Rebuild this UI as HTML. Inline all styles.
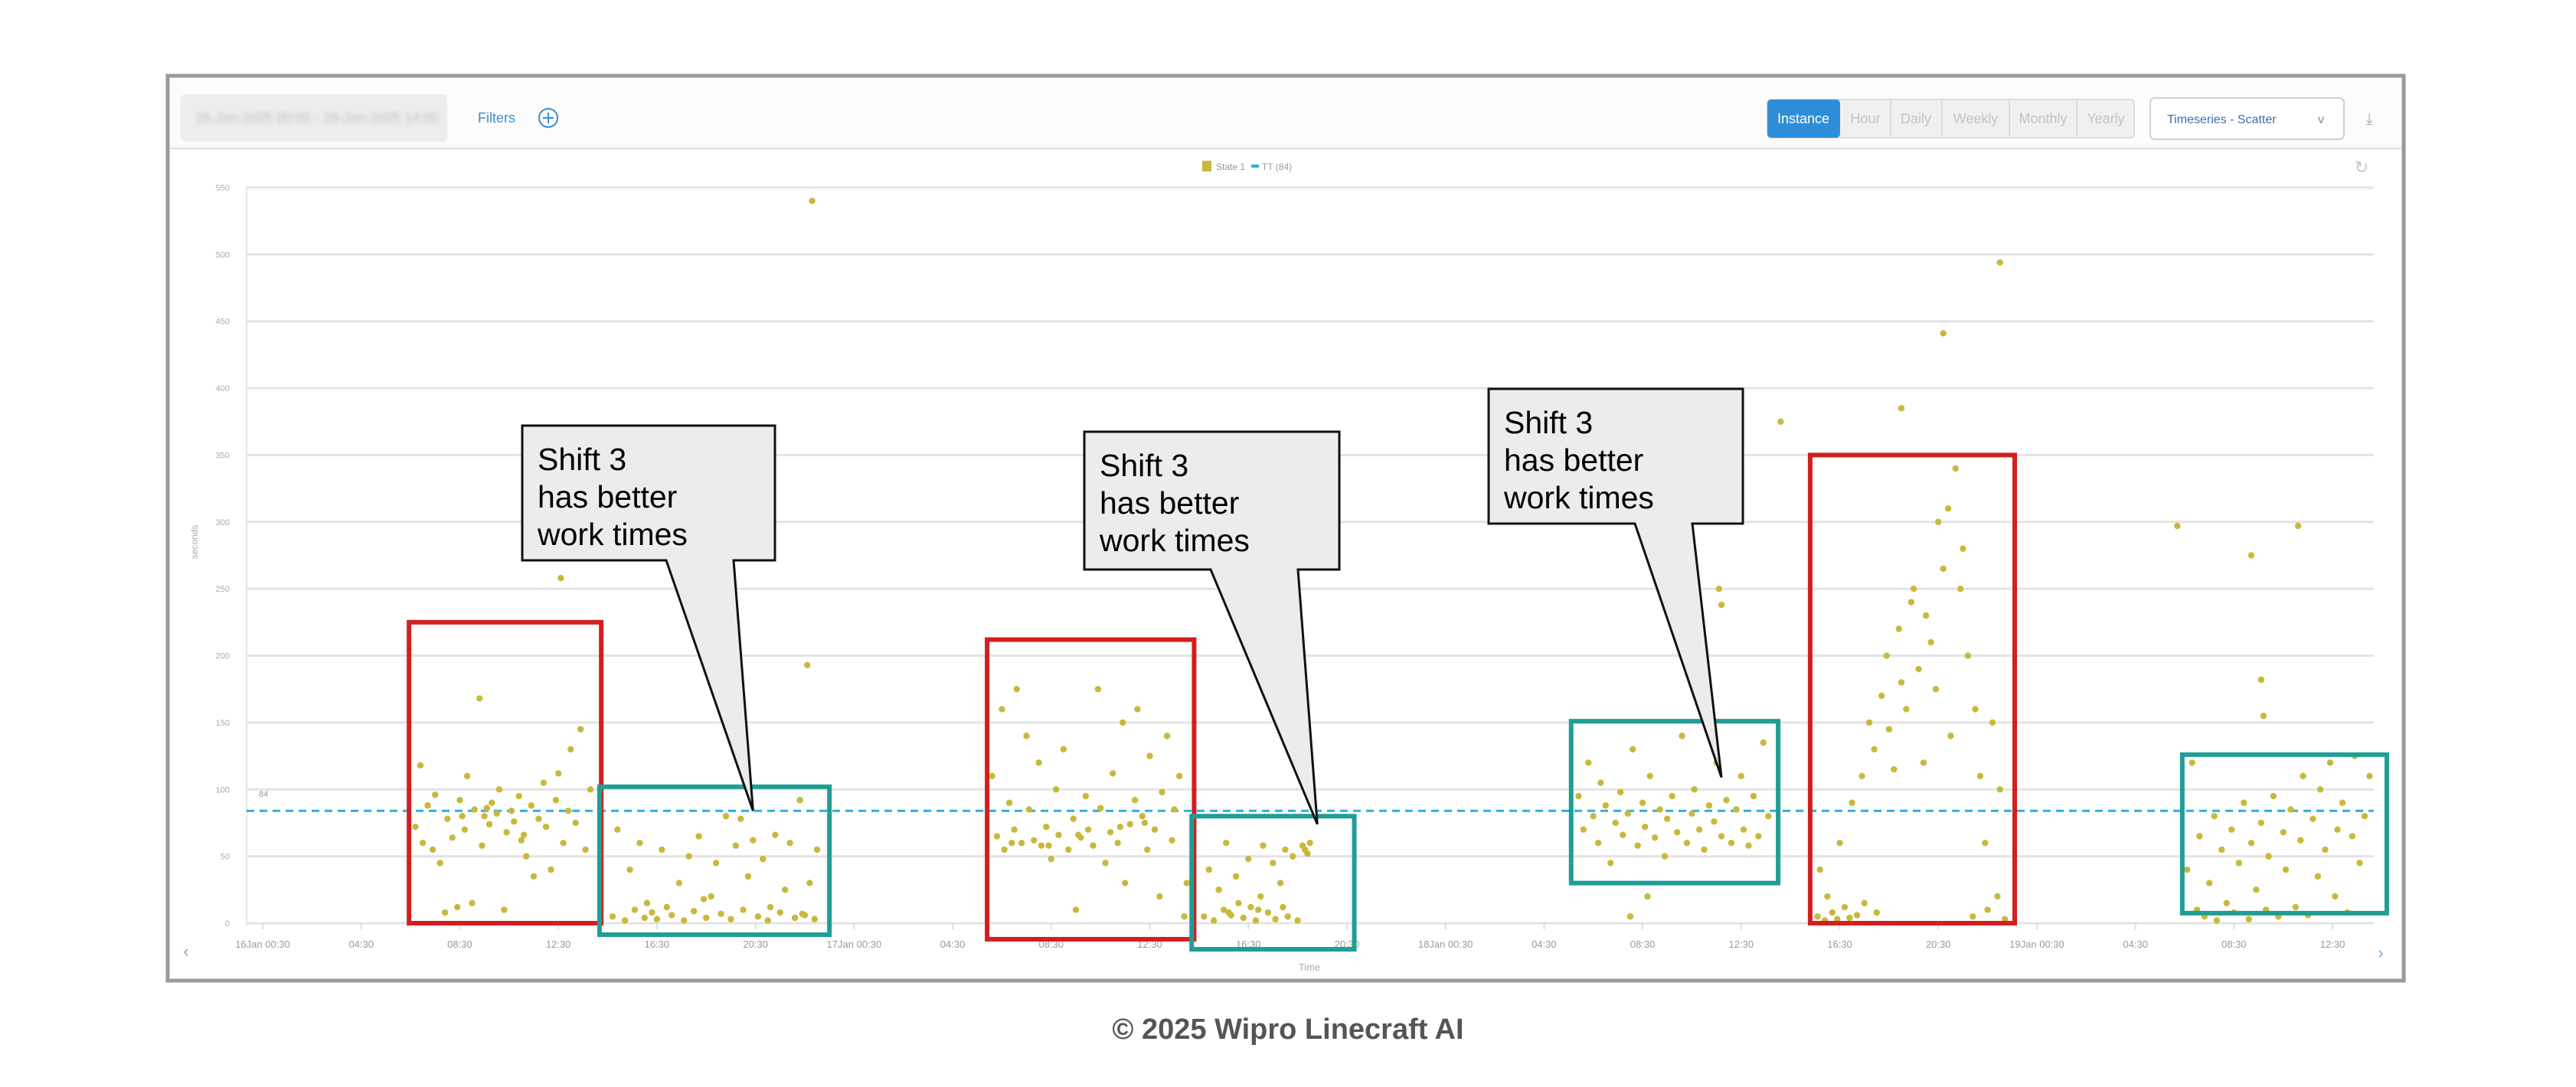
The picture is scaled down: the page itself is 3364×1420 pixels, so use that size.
<!DOCTYPE html>
<html><head><meta charset="utf-8"><style>
html,body{margin:0;padding:0;background:#fff;}
svg{display:block;font-family:"Liberation Sans",sans-serif;}
</style></head><body>
<svg id="chart" width="3364" height="1420" viewBox="0 0 3364 1420" xmlns="http://www.w3.org/2000/svg">
  <defs><filter id="blur"><feGaussianBlur stdDeviation="3"/></filter></defs>
  <rect x="219" y="99" width="2920" height="1182" fill="#fff" stroke="#9a9a9a" stroke-width="5"/>
  <rect x="222" y="102" width="2914" height="91" fill="#fcfcfc"/>
  <line x1="222" y1="194" x2="3136" y2="194" stroke="#e3e3e3" stroke-width="3"/>
  <rect x="236" y="123" width="348" height="62" rx="6" fill="#ededed"/>
  <text x="255" y="160" font-size="18" fill="#c0c0c0" filter="url(#blur)">16-Jan-2025 00:00 - 19-Jan-2025 14:00</text>
  <text x="624" y="160" font-size="18" fill="#3a8fd0">Filters</text>
  <g><circle cx="716" cy="154" r="12" fill="none" stroke="#3a8fd0" stroke-width="2"/><line x1="716" y1="147" x2="716" y2="161" stroke="#3a8fd0" stroke-width="2"/><line x1="709" y1="154" x2="723" y2="154" stroke="#3a8fd0" stroke-width="2"/></g>
  <g>
    <rect x="2308" y="130" width="479" height="50" rx="5" fill="#f0f0f0" stroke="#dcdcdc" stroke-width="2"/>
    <rect x="2308" y="130" width="95" height="50" rx="5" fill="#2e8fd8"/>
    <text x="2355" y="161" font-size="18" fill="#fff" text-anchor="middle">Instance</text>
    <line x1="2469" y1="132" x2="2469" y2="178" stroke="#dcdcdc" stroke-width="2"/><line x1="2536" y1="132" x2="2536" y2="178" stroke="#dcdcdc" stroke-width="2"/><line x1="2624" y1="132" x2="2624" y2="178" stroke="#dcdcdc" stroke-width="2"/><line x1="2712" y1="132" x2="2712" y2="178" stroke="#dcdcdc" stroke-width="2"/>
    <text x="2436" y="161" font-size="18" fill="#c4c4c4" text-anchor="middle">Hour</text>
    <text x="2502" y="161" font-size="18" fill="#c4c4c4" text-anchor="middle">Daily</text>
    <text x="2580" y="161" font-size="18" fill="#c4c4c4" text-anchor="middle">Weekly</text>
    <text x="2668" y="161" font-size="18" fill="#c4c4c4" text-anchor="middle">Monthly</text>
    <text x="2750" y="161" font-size="18" fill="#c4c4c4" text-anchor="middle">Yearly</text>
  </g>
  <g><rect x="2808" y="128" width="253" height="54" rx="6" fill="#fff" stroke="#cfcfcf" stroke-width="2"/><text x="2830" y="161" font-size="16" fill="#3a6fb0">Timeseries - Scatter</text><text x="3027" y="161" font-size="16" fill="#888">v</text></g>
  <text x="3094" y="162" font-size="20" fill="#aaa" text-anchor="middle">⤓</text>
  <text x="3084" y="226" font-size="22" fill="#c8c8c8" text-anchor="middle">↻</text>
  <g>
    <rect x="1570" y="210" width="12" height="14" fill="#c9b83c"/>
    <text x="1588" y="222" font-size="12" fill="#999">State 1</text>
    <rect x="1634" y="215" width="10" height="4" fill="#2db0d8"/>
    <text x="1648" y="222" font-size="12" fill="#999">TT (84)</text>
  </g>
  <g id="grid"></g><g id="ylabels"></g><g id="xlabels"></g>
  <text transform="translate(258,708) rotate(-90)" font-size="12" fill="#aaa" text-anchor="middle">seconds</text>
  <text x="1710" y="1268" font-size="13" fill="#aaa" text-anchor="middle">Time</text>
  <text x="243" y="1250" font-size="22" fill="#7aa6d6" text-anchor="middle">‹</text>
  <text x="3109" y="1252" font-size="22" fill="#7aa6d6" text-anchor="middle">›</text>
  <g id="target"></g><g id="points"></g><g id="boxes"></g><g id="callouts"></g>
  <text x="1682" y="1357" font-size="38" font-weight="bold" fill="#555" text-anchor="middle">© 2025 Wipro Linecraft AI</text>
</svg>
<script>
const yTicks=[0,50,100,150,200,250,300,350,400,450,500,550];
const xTickHours=[0,4,8,12,16,20,24,28,32,36,40,44,48,52,56,60,64,68,72,76,80,84];
const xTickLabels=["16Jan 00:30","04:30","08:30","12:30","16:30","20:30","17Jan 00:30","04:30","08:30","12:30","16:30","20:30","18Jan 00:30","04:30","08:30","12:30","16:30","20:30","19Jan 00:30","04:30","08:30","12:30"];
const targetValue=84;
const hoursA=[6.2,6.4,6.5,6.7,6.9,7.0,7.2,7.4,7.5,7.7,7.9,8.0,8.2,8.3,8.5,8.6,8.8,8.9,9.0,9.2,9.3,9.5,9.6,9.8,9.9,10.1,10.2,10.4,10.5,10.7,10.9,11.0,11.2,11.4,11.5,11.7,11.9,12.0,12.2,12.4,12.5,12.7,12.9,13.1,13.3,12.1,9.1,8.1,10.6];
const valuesA=[72,118,60,88,55,96,45,8,78,64,12,92,70,110,15,85,168,58,80,74,90,82,100,10,68,84,76,95,62,50,88,35,78,105,72,40,92,112,60,84,130,75,145,55,100,258,86,80,66];
const hoursB=[14.2,14.4,14.7,14.9,15.1,15.3,15.5,15.8,16.0,16.2,16.4,16.6,16.9,17.1,17.3,17.5,17.7,18.0,18.2,18.4,18.6,18.8,19.0,19.2,19.5,19.7,19.9,20.1,20.3,20.5,20.8,21.0,21.2,21.4,21.6,21.8,22.0,22.2,22.4,22.5,15.6,17.9,19.4,20.6,21.9,22.3,22.1];
const valuesB=[5,70,2,40,10,60,4,8,3,55,12,6,30,2,50,9,65,4,20,45,7,80,3,58,10,35,62,5,48,2,66,8,25,60,4,92,6,30,3,55,15,18,78,12,7,540,193];
const hoursC=[29.6,29.8,30.0,30.1,30.3,30.5,30.6,30.8,31.0,31.1,31.3,31.5,31.6,31.8,32.0,32.2,32.3,32.5,32.7,32.9,33.0,33.2,33.4,33.5,33.7,33.9,34.0,34.2,34.4,34.5,34.7,34.9,35.0,35.2,35.4,35.5,35.7,35.9,36.0,36.2,36.4,36.5,36.7,36.9,37.0,37.2,37.4,37.5,31.9,35.8,30.4,33.1,34.8];
const valuesC=[110,65,160,55,90,70,175,60,140,85,62,120,58,72,48,100,66,130,55,78,10,64,95,70,58,175,86,45,68,112,60,150,30,74,92,160,80,55,125,70,20,98,140,62,85,110,5,30,58,75,60,66,72];
const hoursD=[38.2,38.4,38.6,38.8,39.0,39.1,39.3,39.5,39.6,39.8,40.0,40.1,40.3,40.5,40.6,40.8,41.0,41.1,41.3,41.5,41.6,41.8,42.0,42.2,42.4,42.5,39.2,40.4,41.4,42.3];
const valuesD=[5,40,2,25,10,60,6,35,15,4,48,12,2,20,58,8,45,3,30,55,5,50,2,58,52,60,8,10,12,55];
const hoursE=[53.4,53.6,53.8,54.0,54.2,54.3,54.5,54.7,54.9,55.1,55.2,55.4,55.6,55.8,56.0,56.1,56.3,56.5,56.7,56.9,57.0,57.2,57.4,57.6,57.8,58.0,58.1,58.3,58.5,58.7,58.9,59.0,59.2,59.4,59.6,59.8,60.0,60.1,60.3,60.5,60.7,60.9,61.1,59.1,59.2,61.6,55.5,56.2];
const valuesE=[95,70,120,80,60,105,88,45,75,98,66,82,130,58,90,72,110,64,85,50,78,95,68,140,60,82,100,70,55,88,76,120,65,92,60,85,110,70,58,95,65,135,80,250,238,375,5,20];
const hoursF=[63.1,63.2,63.4,63.5,63.7,63.9,64.0,64.2,64.4,64.5,64.7,64.9,65.0,65.2,65.4,65.5,65.7,65.9,66.0,66.2,66.4,66.5,66.7,66.9,67.0,67.2,67.4,67.5,67.7,67.9,68.0,68.2,68.4,68.5,68.7,68.9,69.0,69.2,69.4,69.5,69.7,69.9,70.0,70.2,70.4,70.5,70.7,66.5,68.2,70.5];
const valuesF=[5,40,2,20,8,3,60,12,4,90,6,110,15,150,130,8,170,200,145,115,220,180,160,240,250,190,120,230,210,175,300,265,310,140,340,250,280,200,5,160,110,60,10,150,20,100,3,385,441,494];
const hoursG=[78.1,78.3,78.5,78.6,78.8,79.0,79.2,79.3,79.5,79.7,79.9,80.0,80.2,80.4,80.6,80.7,80.9,81.1,81.3,81.4,81.6,81.8,82.0,82.1,82.3,82.5,82.7,82.8,83.0,83.2,83.4,83.5,83.7,83.9,84.1,84.2,84.4,84.6,84.8,84.9,85.1,85.3,85.5,77.7,80.7,82.6,81.1,81.2];
const valuesG=[40,120,10,65,5,30,80,2,55,15,70,8,45,90,3,60,25,75,10,50,95,5,68,40,85,12,62,110,6,78,35,100,55,120,20,70,90,8,65,125,45,80,110,297,275,297,182,155];
const boxKinds=["red","teal","red","teal","teal","red","teal"];
const boxHourStart=[5.94,13.67,29.4,37.7,53.1,62.8,77.9];
const boxHourEnd=[13.74,23.0,37.8,44.3,61.5,71.1,86.2];
const boxValueTop=[225,102,212,80,151,350,126];
const boxValueBottom=[0,-8.6,-12,-19.5,30,0,7.5];
const calloutText=["Shift 3","has better","work times"];
const calloutTipHours=[19.9,42.8,59.2];
const calloutTipValues=[84,74,109];

const NS="http://www.w3.org/2000/svg";
const X0=322,X1=3100;
function xs(h){return 343+h*32.18;}
function ys(v){return 1206-v*1.7473;}
function mk(tag,attrs,parent){const e=document.createElementNS(NS,tag);for(const k in attrs)e.setAttribute(k,attrs[k]);parent.appendChild(e);return e;}

const grid=document.getElementById('grid'),yl=document.getElementById('ylabels'),xl=document.getElementById('xlabels');
mk('line',{x1:X0,y1:ys(550)-2,x2:X0,y2:1210,stroke:'#e6e6e6','stroke-width':2},grid);
yTicks.forEach(t=>{
  const l=mk('line',{x1:X0,y1:ys(t),x2:X1,y2:ys(t),stroke:'#e4e4e4','stroke-width':3},grid);
  
  
  const tx=mk('text',{x:300,y:ys(t)+4,'font-size':11,fill:'#aaa','text-anchor':'end'},yl);
  tx.textContent=t;
  
  
});
xTickHours.forEach((h,i)=>{
  const tk=mk('line',{x1:xs(h),y1:1206,x2:xs(h),y2:1214,stroke:'#ddd','stroke-width':2},grid);
  
  
  const tx=mk('text',{x:xs(h),y:1238,'font-size':13,fill:'#999','text-anchor':'middle'},xl);
  tx.textContent=xTickLabels[i];
  
  
});

const tg=document.getElementById('target');
const tl=mk('line',{x1:X0,y1:ys(targetValue),x2:X1,y2:ys(targetValue),stroke:'#2db0d8','stroke-width':3,'stroke-dasharray':'10 7'},tg);


const tlab=mk('text',{x:338,y:ys(targetValue)-18,'font-size':11,fill:'#999'},tg);
tlab.textContent=targetValue;



const pg=document.getElementById('points');
[[hoursA,valuesA],[hoursB,valuesB],[hoursC,valuesC],[hoursD,valuesD],[hoursE,valuesE],[hoursF,valuesF],[hoursG,valuesG]].forEach(([hs,vs])=>{
  hs.forEach((h,i)=>{
    const c=mk('circle',{cx:xs(h),cy:ys(vs[i]),r:4.2,fill:'#c9b83c'},pg);
    
    
  });
});

const bg=document.getElementById('boxes');
boxKinds.forEach((k,i)=>{
  const x1=xs(boxHourStart[i]),x2=xs(boxHourEnd[i]),y1=ys(boxValueTop[i]),y2=ys(boxValueBottom[i]);
  const r=mk('rect',{x:x1,y:y1,width:x2-x1,height:y2-y1,fill:'none',stroke:k==='red'?'#d21f1f':'#1f9e96','stroke-width':6},bg);
  
  
});

const cg=document.getElementById('callouts');
const cBoxes=[[682,556,1012,732,870,958],[1416,564,1749,744,1581,1695],[1944,508,2276,684,2135,2210]];
cBoxes.forEach((b,i)=>{
  const [l,t,r,bt,p1,p2]=b;const tx=xs(calloutTipHours[i]),ty=ys(calloutTipValues[i]);
  const g=mk('g',{},cg);
  
  
  mk('path',{d:`M${l},${t} H${r} V${bt} H${p2} L${tx},${ty} L${p1},${bt} H${l} Z`,fill:'#ececec',stroke:'#111','stroke-width':3,'stroke-linejoin':'miter'},g);
  calloutText.forEach((s,j)=>{
    const te=mk('text',{x:l+20,y:t+58+j*49,'font-size':41,fill:'#000'},g);
    te.textContent=s;
  });
});
</script>
</body></html>
